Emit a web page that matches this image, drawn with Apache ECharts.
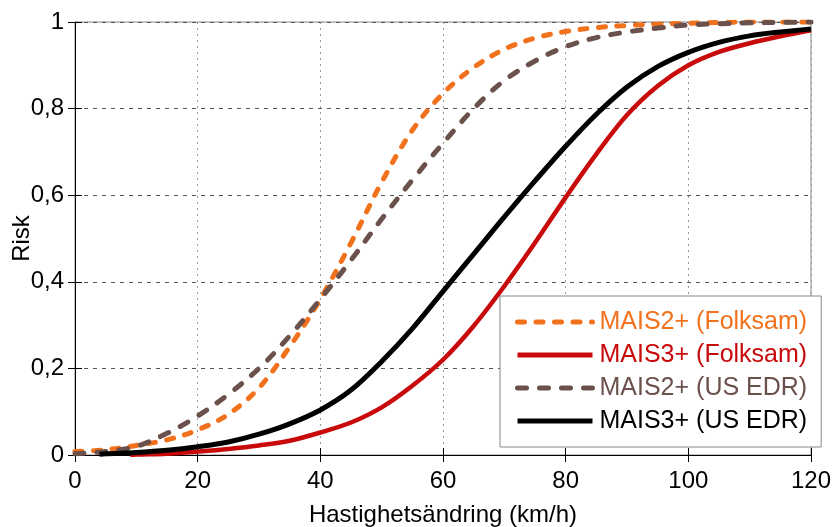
<!DOCTYPE html>
<html>
<head>
<meta charset="utf-8">
<script src="https://cdn.jsdelivr.net/npm/echarts@6/dist/echarts.min.js"></script>
<style>
  html, body { margin: 0; padding: 0; background: #fff; }
  #chart { width: 834px; height: 527px; }
</style>
</head>
<body>
<div id="chart"></div>
<script>
// Speed change (km/h) grids for each curve
const speedsMais2Folksam = [0,5,10,15,20,25,30,35,40,45,50,55,60,65,70,75,80,85,90,95,100,105,110,115,120];
const speedsMais2Edr     = [0,5,10,15,20,25,30,35,40,45,50,55,60,65,70,75,80,85,90,95,100,105,110,115,120];
const speedsMais3Folksam = [9,10,15,20,25,30,35,40,45,50,55,60,65,70,75,80,85,90,95,100,105,110,115,120];
const speedsMais3Edr     = [4,5,10,15,20,25,30,35,40,45,50,55,60,65,70,75,80,85,90,95,100,105,110,115,120];

// Injury risk values
const riskMais2Folksam = [0.008,0.012,0.022,0.035,0.058,0.094,0.155,0.25,0.36,0.49,0.63,0.75,0.835,0.895,0.937,0.963,0.978,0.987,0.992,0.995,0.997,0.999,1.0,1.0,1.0];
const riskMais2Edr     = [0.003,0.008,0.02,0.05,0.09,0.14,0.20,0.275,0.36,0.45,0.545,0.635,0.72,0.80,0.865,0.91,0.943,0.964,0.977,0.986,0.993,0.996,0.998,0.999,1.0];
const riskMais3Folksam = [0.0,0.001,0.003,0.008,0.014,0.022,0.033,0.052,0.075,0.11,0.16,0.22,0.298,0.39,0.49,0.595,0.695,0.785,0.852,0.90,0.931,0.951,0.967,0.981];
const riskMais3Edr     = [0.002,0.003,0.006,0.011,0.019,0.03,0.048,0.072,0.104,0.15,0.216,0.292,0.378,0.464,0.55,0.633,0.713,0.787,0.85,0.897,0.93,0.953,0.968,0.977,0.984];

// Axis ticks
const xTicks = [0,20,40,60,80,100,120];
const yTicks = [0,0.2,0.4,0.6,0.8,1];

const seriesNames = ['MAIS2+ (Folksam)','MAIS3+ (Folksam)','MAIS2+ (US EDR)','MAIS3+ (US EDR)'];
const seriesColors = ['#F2711C','#C80A0A','#6B514B','#000000'];

const FONT = 'Liberation Sans, Arial, sans-serif';

function pairs(xs, ys) { return xs.map((x, i) => [x, ys[i]]); }

const chart = echarts.init(document.getElementById('chart'), null, { renderer: 'canvas' });

const tickStyle = { show: true, inside: true, length: 7, lineStyle: { color: '#000' } };

function curve(i, xs, ys, lineStyle) {
  return {
    name: seriesNames[i], type: 'line', data: pairs(xs, ys),
    smooth: 0.35, symbol: 'none', color: seriesColors[i],
    lineStyle: Object.assign({ color: seriesColors[i] }, lineStyle)
  };
}

chart.setOption({
  animation: false,
  backgroundColor: '#fff',
  textStyle: { fontFamily: FONT },
  grid: { left: 75, right: 23, top: 22, bottom: 72, outerBoundsMode: 'none',
          show: true, borderColor: '#888', borderWidth: 1 },
  legend: {
    orient: 'vertical',
    left: 500, top: 296,
    padding: [13, 14, 13, 15],
    backgroundColor: '#fff',
    borderColor: '#888', borderWidth: 1,
    itemWidth: 75, itemHeight: 6,
    itemGap: 7,
    itemStyle: { opacity: 0 },
    lineStyle: { width: 5 },
    data: seriesNames.map((n, i) => ({ name: n, textStyle: { color: seriesColors[i] } })),
    textStyle: { fontFamily: FONT, fontSize: 25, lineHeight: 26, padding: [0, 0, 0, 2] }
  },
  xAxis: [{
    type: 'value', min: 0, max: 120, interval: 20,
    name: 'Hastighetsändring (km/h)', nameLocation: 'middle', nameGap: 48, nameMoveOverlap: false,
    nameTextStyle: { fontFamily: FONT, fontSize: 24, color: '#000' },
    axisLine: { show: true, lineStyle: { color: '#000', width: 1 } },
    axisTick: tickStyle,
    axisLabel: { fontFamily: FONT, fontSize: 24, color: '#000', margin: 14,
      formatter: v => xTicks.includes(v) ? String(v) : '' },
    splitLine: { show: true, lineStyle: { color: '#999', type: [2, 4], width: 1 } }
  }, {
    type: 'value', position: 'top', min: 0, max: 120, interval: 20,
    axisLine: { show: false }, axisTick: tickStyle,
    axisLabel: { show: false }, splitLine: { show: false }
  }],
  yAxis: [{
    type: 'value', min: 0, max: 1, interval: 0.2,
    name: 'Risk', nameLocation: 'middle', nameGap: 41, nameMoveOverlap: false,
    nameTextStyle: { fontFamily: FONT, fontSize: 24, color: '#000' },
    axisLine: { show: true, lineStyle: { color: '#000', width: 1 } },
    axisTick: tickStyle,
    axisLabel: { fontFamily: FONT, fontSize: 24, color: '#000', margin: 11,
      formatter: v => {
        const t = yTicks.find(k => Math.abs(k - v) < 1e-9);
        return t === undefined ? '' : String(+t.toFixed(1)).replace('.', ',');
      } },
    splitLine: { show: true, lineStyle: { color: '#555', type: [4, 5], width: 1 } }
  }, {
    type: 'value', position: 'right', min: 0, max: 1, interval: 0.2,
    axisLine: { show: false }, axisTick: tickStyle,
    axisLabel: { show: false }, splitLine: { show: false }
  }],
  series: [
    curve(0, speedsMais2Folksam, riskMais2Folksam, { width: 5, type: [7, 11.5], cap: 'round' }),
    curve(1, speedsMais3Folksam, riskMais3Folksam, { width: 4.5 }),
    curve(2, speedsMais2Edr, riskMais2Edr, { width: 5, type: [9, 13], cap: 'round' }),
    curve(3, speedsMais3Edr, riskMais3Edr, { width: 5 })
  ]
});
</script>
</body>
</html>
